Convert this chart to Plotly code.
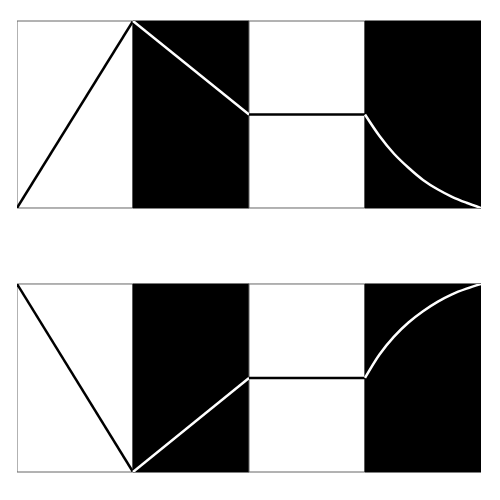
import plotly.graph_objects as go
from plotly.subplots import make_subplots

# Segment boundaries (x) and background colour for each segment
bounds = [0, 1, 2, 3, 4]
bands = ["white", "black", "white", "black"]

# Top envelope
top_x = [[0, 1], [1, 2], [2, 3],
         [3, 3.125, 3.25, 3.375, 3.5, 3.625, 3.75, 3.875, 4]]
top_y = [[0, 1], [1, 0.5], [0.5, 0.5],
         [0.5, 0.385, 0.29, 0.215, 0.15, 0.10, 0.06, 0.028, 0]]

# Bottom envelope (inverted)
bot_x = [[0, 1], [1, 2], [2, 3],
         [3, 3.125, 3.25, 3.375, 3.5, 3.625, 3.75, 3.875, 4]]
bot_y = [[1, 0], [0, 0.5], [0.5, 0.5],
         [0.5, 0.625, 0.72, 0.795, 0.855, 0.905, 0.945, 0.975, 1]]

fig = make_subplots(rows=2, cols=1, vertical_spacing=0.1685)

for row, xs, ys in [(1, top_x, top_y), (2, bot_x, bot_y)]:
    for i in range(4):
        line_col = "white" if bands[i] == "black" else "black"
        fig.add_trace(go.Scatter(x=xs[i], y=ys[i], mode="lines",
                                 line=dict(color=line_col, width=2.5,
                                           shape="spline"),
                                 showlegend=False, hoverinfo="skip"),
                      row=row, col=1)
    xref = "x" if row == 1 else "x2"
    yref = "y domain" if row == 1 else "y2 domain"
    for i in range(4):
        fill = bands[i]
        edge = "#666666" if fill == "white" else "black"
        fig.add_shape(type="rect", xref=xref, yref=yref,
                      x0=bounds[i], x1=bounds[i + 1], y0=0, y1=1,
                      fillcolor=fill, line=dict(color=edge, width=1),
                      layer="below")

fig.update_xaxes(range=[0, 4], showgrid=False, zeroline=False,
                 showticklabels=False, ticks="")
fig.update_yaxes(range=[0, 1], showgrid=False, zeroline=False,
                 showticklabels=False, ticks="")

# page body adds 8px, so margins are shifted
fig.update_layout(width=500, height=500,
                  margin=dict(l=9, r=27, t=13, b=36),
                  paper_bgcolor="white", plot_bgcolor="white")
fig.update_layout(yaxis=dict(domain=[0.5854, 1]),
                  yaxis2=dict(domain=[0, 0.4169]))

fig.write_html("out.html")
